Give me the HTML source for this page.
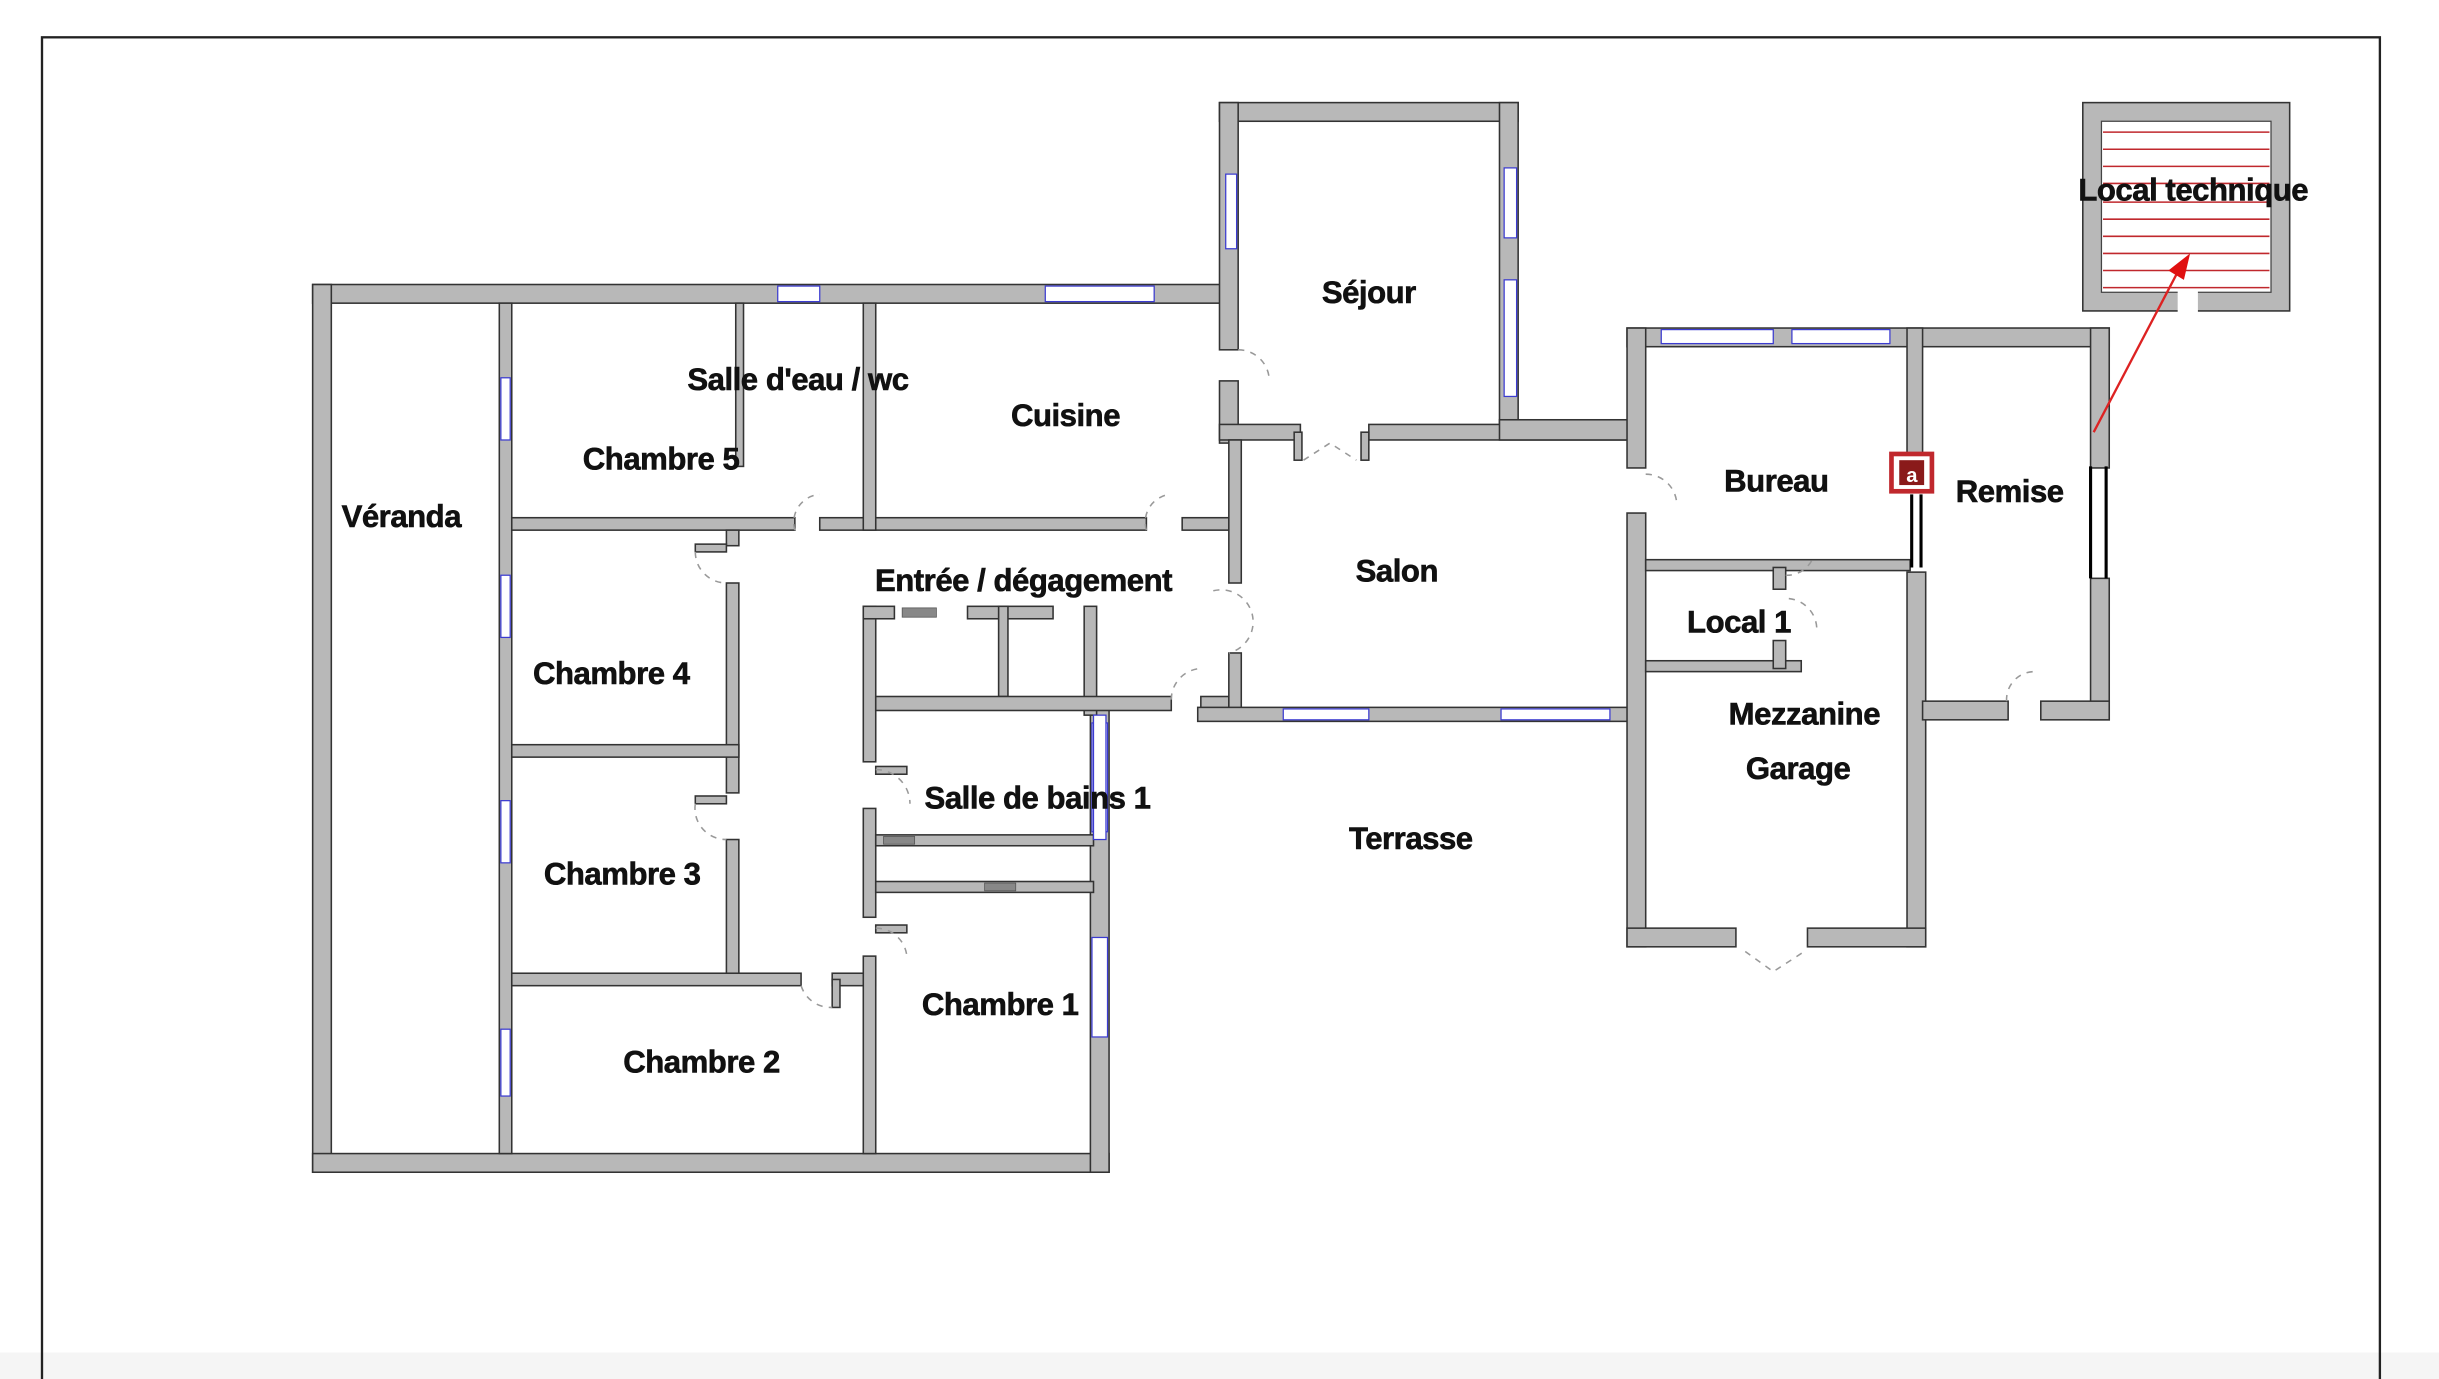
<!DOCTYPE html>
<html><head><meta charset="utf-8"><style>
html,body{margin:0;padding:0;background:#fff;width:2439px;height:1379px;overflow:hidden}
svg{display:block}
.w{fill:#b8b8b8;stroke:#333;stroke-width:1}
.win{fill:#fff;stroke:#3b3bd0;stroke-width:0.8}
.gw{fill:#888;stroke:#555;stroke-width:0.5}
.d{fill:none;stroke:#999;stroke-width:1;stroke-dasharray:4 4}
text{font-family:"Liberation Sans",sans-serif;font-weight:bold;font-size:20px;fill:#111;text-anchor:middle;stroke:#111;stroke-width:0.4;letter-spacing:-0.3px}
</style></head><body>
<svg width="2439" height="1379" viewBox="0 0 1568 887" preserveAspectRatio="none">
<rect x="0" y="870" width="1568" height="17" fill="#f5f5f5"/>
<rect x="27" y="24" width="1503" height="880" fill="none" stroke="#222" stroke-width="1.5"/>

<!-- left block outer -->
<rect class="w" x="201" y="183" width="589" height="12"/>
<rect class="win" x="500" y="184" width="27" height="10"/>
<rect class="win" x="672" y="184" width="70" height="10"/>
<rect class="w" x="201" y="183" width="12" height="571"/>
<rect class="w" x="201" y="742" width="512" height="12"/>
<rect class="w" x="701" y="455" width="12" height="299"/>
<rect class="win" x="702" y="465" width="10" height="70"/>
<rect class="win" x="702" y="603" width="10" height="64"/>
<!-- veranda wall -->
<rect class="w" x="321" y="195" width="8" height="547"/>
<rect class="win" x="322" y="243" width="6" height="40"/>
<rect class="win" x="322" y="370" width="6" height="40"/>
<rect class="win" x="322" y="515" width="6" height="40"/>
<rect class="win" x="322" y="662" width="6" height="43"/>
<!-- corridor top -->
<rect class="w" x="329" y="333" width="182" height="8"/>
<rect class="w" x="527" y="333" width="210" height="8"/>
<rect class="w" x="760" y="333" width="30" height="8"/>
<rect class="w" x="473" y="195" width="5" height="105"/>
<rect class="w" x="555" y="195" width="8" height="146"/>
<!-- corridor left -->
<rect class="w" x="467" y="341" width="8" height="10"/>
<rect class="w" x="467" y="375" width="8" height="135"/>
<rect class="w" x="467" y="540" width="8" height="88"/>
<rect class="w" x="447" y="350" width="20" height="5"/>
<rect class="w" x="447" y="512" width="20" height="5"/>
<rect class="w" x="329" y="479" width="146" height="8"/>
<rect class="w" x="329" y="626" width="186" height="8"/>
<rect class="w" x="535" y="626" width="28" height="8"/>
<rect class="w" x="535" y="630" width="5" height="18"/>
<!-- bath area -->
<rect class="w" x="555" y="390" width="8" height="100"/>
<rect class="w" x="555" y="520" width="8" height="70"/>
<rect class="w" x="555" y="615" width="8" height="127"/>
<rect class="w" x="563" y="493" width="20" height="5"/>
<rect class="w" x="563" y="595" width="20" height="5"/>
<rect class="w" x="555" y="390" width="20" height="8"/>
<rect class="gw" x="580" y="391" width="22" height="6"/>
<rect class="w" x="622" y="390" width="55" height="8"/>
<rect class="w" x="642" y="390" width="6" height="58"/>
<rect class="w" x="697" y="390" width="8" height="70"/>
<rect class="w" x="563" y="448" width="190" height="9"/>
<rect class="w" x="772" y="448" width="18" height="9"/>
<rect class="w" x="563" y="537" width="140" height="7"/>
<rect class="gw" x="568" y="538" width="20" height="5"/>
<rect class="w" x="563" y="567" width="140" height="7"/>
<rect class="gw" x="633" y="568" width="20" height="5"/>
<rect class="win" x="703" y="460" width="8" height="80"/>
<!-- séjour -->
<rect class="w" x="784" y="66" width="192" height="12"/>
<rect class="w" x="784" y="66" width="12" height="159"/>
<rect class="win" x="788" y="112" width="7" height="48"/>
<rect class="w" x="784" y="245" width="12" height="40"/>
<rect class="w" x="964" y="66" width="12" height="210"/>
<rect class="win" x="967" y="108" width="8" height="45"/>
<rect class="win" x="967" y="180" width="8" height="75"/>
<rect class="w" x="784" y="273" width="52" height="10"/>
<rect class="w" x="880" y="273" width="174" height="10"/>
<rect class="w" x="964" y="270" width="90" height="13"/>
<rect class="w" x="832" y="278" width="5" height="18"/>
<rect class="w" x="875" y="278" width="5" height="18"/>
<!-- salon -->
<rect class="w" x="790" y="283" width="8" height="92"/>
<rect class="w" x="790" y="420" width="8" height="37"/>
<rect class="w" x="770" y="455" width="286" height="9"/>
<rect class="win" x="825" y="456" width="55" height="7"/>
<rect class="win" x="965" y="456" width="70" height="7"/>
<!-- bureau block -->
<rect class="w" x="1046" y="211" width="310" height="12"/>
<rect class="win" x="1068" y="212" width="72" height="9"/>
<rect class="win" x="1152" y="212" width="63" height="9"/>
<rect class="w" x="1046" y="211" width="12" height="90"/>
<rect class="w" x="1046" y="330" width="12" height="279"/>
<rect class="w" x="1058" y="360" width="170" height="7"/>
<rect class="w" x="1058" y="425" width="100" height="7"/>
<rect class="w" x="1140" y="365" width="8" height="14"/>
<rect class="w" x="1140" y="412" width="8" height="18"/>
<rect class="w" x="1226" y="211" width="10" height="85"/>
<rect class="w" x="1226" y="368" width="12" height="241"/>
<rect class="w" x="1344" y="211" width="12" height="90"/>
<rect class="w" x="1344" y="372" width="12" height="91"/>
<rect class="w" x="1236" y="451" width="55" height="12"/>
<rect class="w" x="1312" y="451" width="44" height="12"/>
<rect class="w" x="1046" y="597" width="70" height="12"/>
<rect class="w" x="1162" y="597" width="76" height="12"/>
<line x1="1229" y1="318" x2="1229" y2="365" stroke="#000" stroke-width="2"/>
<line x1="1235" y1="318" x2="1235" y2="365" stroke="#000" stroke-width="2"/>
<line x1="1344" y1="300" x2="1344" y2="372" stroke="#000" stroke-width="2"/>
<line x1="1354" y1="300" x2="1354" y2="372" stroke="#000" stroke-width="2"/>
<rect x="1216" y="292" width="26" height="24" fill="#fff" stroke="#c0282d" stroke-width="3"/>
<rect x="1221" y="296" width="16" height="16" fill="#8a1a1a"/>
<text x="1229" y="310" style="font-size:13px;fill:#fff;stroke:none">a</text>
<!-- local technique -->
<rect class="w" x="1339" y="66" width="133" height="134"/>
<rect x="1351" y="78" width="109" height="110" fill="#fff" stroke="#444" stroke-width="0.8"/>
<g stroke="#c0282d" stroke-width="1">
<line x1="1352" y1="85" x2="1459" y2="85"/><line x1="1352" y1="96" x2="1459" y2="96"/><line x1="1352" y1="107" x2="1459" y2="107"/><line x1="1352" y1="118" x2="1459" y2="118"/><line x1="1352" y1="130" x2="1459" y2="130"/><line x1="1352" y1="141" x2="1459" y2="141"/><line x1="1352" y1="152" x2="1459" y2="152"/><line x1="1352" y1="163" x2="1459" y2="163"/><line x1="1352" y1="174" x2="1459" y2="174"/><line x1="1352" y1="185" x2="1459" y2="185"/></g>
<rect x="1400" y="187" width="13" height="14" fill="#fff"/>
<line x1="1346" y1="278" x2="1400" y2="175" stroke="#d22" stroke-width="1.5"/>
<polygon points="1408,163 1394,174 1404,180" fill="#e01010"/>
<!-- door arcs -->
<path class="d" d="M511 341 A18 18 0 0 1 527 318"/>
<path class="d" d="M737 341 A18 18 0 0 1 752 318"/>
<path class="d" d="M796 225 A20 20 0 0 1 816 245"/>
<path class="d" d="M447 355 A20 20 0 0 0 467 375"/>
<path class="d" d="M447 517 A20 20 0 0 0 467 540"/>
<path class="d" d="M563 495 A22 22 0 0 1 585 517"/>
<path class="d" d="M563 597 A20 20 0 0 1 583 615"/>
<path class="d" d="M515 634 A20 20 0 0 0 535 648"/>
<path class="d" d="M1058 305 A20 20 0 0 1 1078 325"/>
<path class="d" d="M1148 370 A18 18 0 0 0 1165 360"/>
<path class="d" d="M1150 385 A20 20 0 0 1 1168 405"/>
<path class="d" d="M1290 451 A18 18 0 0 1 1308 432"/>
<path class="d" d="M753 450 A20 20 0 0 1 772 430"/>
<path class="d" d="M780 380 A20 20 0 0 1 790 420"/>
<path class="d" d="M838 296 L855 285 L872 296"/>
<path class="d" d="M1122 612 L1140 625 L1160 612"/>
<!-- labels -->
<text x="258" y="339">Véranda</text>
<text x="513" y="251">Salle d'eau / wc</text>
<text x="685" y="274">Cuisine</text>
<text x="425" y="302">Chambre 5</text>
<text x="880" y="195">Séjour</text>
<text x="658" y="380">Entrée / dégagement</text>
<text x="898" y="374">Salon</text>
<text x="1142" y="316">Bureau</text>
<text x="1292" y="323">Remise</text>
<text x="1410" y="129">Local technique</text>
<text x="1118" y="407">Local 1</text>
<text x="1160" y="466">Mezzanine</text>
<text x="1156" y="501">Garage</text>
<text x="393" y="440">Chambre 4</text>
<text x="667" y="520">Salle de bains 1</text>
<text x="400" y="569">Chambre 3</text>
<text x="907" y="546">Terrasse</text>
<text x="643" y="653">Chambre 1</text>
<text x="451" y="690">Chambre 2</text>
</svg>
</body></html>
